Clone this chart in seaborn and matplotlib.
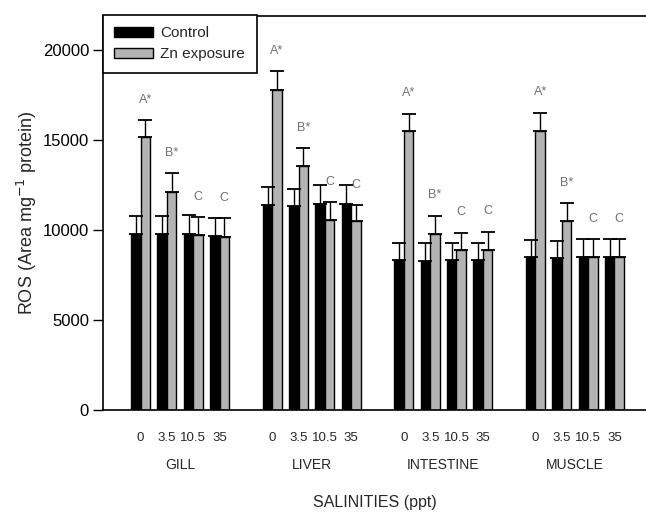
import numpy as np
import pandas as pd
import seaborn as sns
import matplotlib
matplotlib.use("Agg")
import matplotlib.pyplot as plt
from matplotlib.patches import Patch

# Tissues, salinities, treatments
tissues = ["GILL", "LIVER", "INTESTINE", "MUSCLE"]
salinities = ["0", "3.5", "10.5", "35"]
treatments = ["Control", "Zn exposure"]

# Mean ROS values, tissue by salinity
control_mean = [
    [9760, 9810, 9760, 9680],    # gill
    [11390, 11330, 11440, 11440],  # liver
    [8330, 8280, 8330, 8330],    # intestine
    [8480, 8430, 8480, 8480],    # muscle
]
control_err = [
    [1020, 970, 1070, 970],
    [1010, 980, 1060, 1060],
    [980, 980, 980, 980],
    [960, 980, 1000, 1000],
]
zn_mean = [
    [15180, 12130, 9720, 9630],
    [17800, 13570, 10560, 10500],
    [15500, 9780, 8890, 8890],
    [15500, 10500, 8480, 8480],
]
zn_err = [
    [930, 1020, 980, 1020],
    [1030, 970, 980, 890],
    [980, 1000, 960, 1020],
    [1020, 980, 1000, 1000],
]
# significance letters over the Zn bars
letters = [
    ["A*", "B*", "C", "C"],
    ["A*", "B*", "C", "C"],
    ["A*", "B*", "C", "C"],
    ["A*", "B*", "C", "C"],
]

rows = []
for t, tissue in enumerate(tissues):
    for s, sal in enumerate(salinities):
        slot = t * 5 + s
        rows.append(dict(slot=slot, tissue=tissue, salinity=sal, group="Control",
                         ros=control_mean[t][s], err=control_err[t][s], letter=""))
        rows.append(dict(slot=slot, tissue=tissue, salinity=sal, group="Zn exposure",
                         ros=zn_mean[t][s], err=zn_err[t][s], letter=letters[t][s]))
df = pd.DataFrame(rows)

sns.set_style("ticks")
plt.rcParams["font.family"] = ["Liberation Sans", "DejaVu Sans"]

fig = plt.figure(figsize=(6.46, 5.13), dpi=100)
ax = fig.add_axes([103 / 646, 1 - 410 / 513, 1 - 103 / 646, (410 - 16) / 513])

palette = {"Control": "#000000", "Zn exposure": "#b4b4b4"}
sns.barplot(data=df, x="slot", y="ros", hue="group", hue_order=treatments,
            palette=palette, native_scale=True, width=0.72, dodge=True,
            errorbar=None, edgecolor="black", linewidth=1, legend=False, ax=ax)

# upward-only error bars drawn at each bar's position
for container, grp in zip(ax.containers, treatments):
    sub = df[df["group"] == grp].reset_index(drop=True)
    for bar, (_, r) in zip(container, sub.iterrows()):
        cx = bar.get_x() + bar.get_width() / 2
        ax.errorbar(cx, r["ros"], yerr=[[0], [r["err"]]], fmt="none",
                    ecolor="black", elinewidth=1, capsize=5, capthick=1.3)
        if r["letter"]:
            ax.annotate(r["letter"], (cx, r["ros"] + r["err"]), xytext=(0, 10.5),
                        textcoords="offset points", ha="center", va="bottom",
                        fontsize=9, color="#707070")

ax.set_xlim(-1.43, 19.2)
ax.set_ylim(0, 21900)
ax.set_yticks([0, 5000, 10000, 15000, 20000])
ax.tick_params(axis="y", direction="out", length=7, width=1, labelsize=12,
               colors="black", pad=3)
ax.set_xticks([t * 5 + s for t in range(4) for s in range(4)])
ax.set_xticklabels(salinities * 4, fontsize=9.5)
ax.tick_params(axis="x", length=0, pad=16)

for t, tissue in enumerate(tissues):
    ax.text(t * 5 + 1.5, -0.14, tissue, transform=ax.get_xaxis_transform(),
            ha="center", va="center", fontsize=10)

ax.text(0.5, (410 - 503) / 394, "SALINITIES (ppt)", transform=ax.transAxes,
        ha="center", va="center", fontsize=11.5)
ax.set_xlabel("")
ax.set_ylabel("ROS (Area mg$^{-1}$ protein)", fontsize=13, labelpad=3)

for side in ["left", "bottom", "top"]:
    ax.spines[side].set_linewidth(1.2)
    ax.spines[side].set_color("black")
ax.spines["top"].set_visible(True)
ax.spines["right"].set_visible(False)

handles = [Patch(facecolor=palette[g], edgecolor="black", linewidth=1, label=g) for g in treatments]
leg = ax.legend(handles=handles, loc="upper left", bbox_to_anchor=(0, 1.0025), borderaxespad=0,
                frameon=True, fancybox=False, edgecolor="black", fontsize=11,
                handlelength=2.5, handleheight=0.65, handletextpad=0.5,
                borderpad=0.75, labelspacing=0.45)
leg.get_frame().set_linewidth(1.2)
leg.get_frame().set_alpha(1)

fig.savefig("out.png", dpi=100)
